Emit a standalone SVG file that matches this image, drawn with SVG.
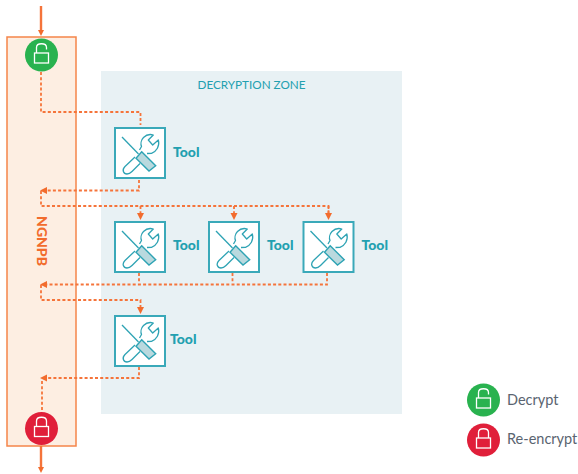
<svg xmlns="http://www.w3.org/2000/svg" width="578" height="474" viewBox="0 0 578 474">
<style>
.dash{fill:none;stroke:#f5743a;stroke-width:1.8;stroke-dasharray:3 2.2}
.solid{fill:none;stroke:#f5743a;stroke-width:2.4}
.head{fill:#f26c2d}
.tl{font:900 14px "Lato","Liberation Sans",sans-serif;fill:#22a0b0}
.box{fill:#fff;stroke:#3aa9b9;stroke-width:2}
.ic{fill:none;stroke:#2ea3b4;stroke-width:1.3;stroke-linejoin:round}
.hd{fill:#b9d9de;stroke:#2ea3b4;stroke-width:1.4}
.lk{fill:none;stroke:#fff;stroke-width:1.3}
.lg{font:400 14.500px "Lato","Liberation Sans",sans-serif;fill:#5a6470}
</style>
<defs>
<g id="tool">
<rect class="box" x="0" y="0" width="50" height="50"/>
<path class="ic" d="M7 9L23.500 26"/>
<path class="ic" d="M24.500 22L26.500 18.500C25.500 16 26 12 28.500 9.500C31 7 35 6 38.300 7L33.300 12L37.700 17L43.300 12C45 18 41.500 23.500 36.500 25.300L32 25.500"/>
<path class="ic" d="M20 29L10 38.500C6.500 42 8.500 46 12 46C14 46 15.500 45 17 43.500L25 35.500"/>
<path class="hd" d="M26.700 23.700L40.700 37.700L34 43L21 30.300Z"/>
</g>
<g id="open">
<rect class="lk" x="-7" y="-2" width="14" height="10"/>
<path class="lk" d="M-5 -2V-7.500C-5 -12.500 5 -12.500 5 -7.500V-5.500"/>
</g>
<g id="closed">
<rect class="lk" x="-7" y="-2" width="14" height="10"/>
<path class="lk" d="M-5 -2V-7.500C-5 -12.500 5 -12.500 5 -7.500V-2"/>
</g>
</defs>
<rect id="zone" x="101" y="71" width="301" height="343" fill="#e8f1f4"/>
<text x="251.500" y="89" text-anchor="middle" font-family="Lato,'Liberation Sans',sans-serif" font-size="11.700" fill="#22a0b0">DECRYPTION ZONE</text>
<g id="ngnpb">
<rect x="7" y="37" width="69" height="409" fill="#fdeee2" stroke="#f5854a" stroke-width="1.500"/>
<text transform="translate(36.500,241) rotate(90)" text-anchor="middle" font-family="Lato,'Liberation Sans',sans-serif" font-size="14" font-weight="900" fill="#f26c2d">NGNPB</text>
</g>
<g id="connectors">
<path class="solid" d="M41 6V31"/><path class="head" d="M38 30H44L41 36Z"/>
<path class="solid" d="M41 446V468"/><path class="head" d="M38 467H44L41 473Z"/>
<path class="dash" d="M41 72V112H140.500V125"/>
<path class="dash" d="M139 180V190.500H45"/><path class="head" d="M47 187V194L40 190.500Z"/>
<path class="dash" d="M41 191V206H328.500V215"/>
<path class="dash" d="M140.500 206V214"/><path class="head" d="M137 213H144L140.500 220Z"/>
<path class="dash" d="M234 206V214"/><path class="head" d="M230.500 213H237.500L234 220Z"/>
<path class="dash" d="M328.500 206V214"/><path class="head" d="M325 213H332L328.500 220Z"/>
<path class="dash" d="M139 273V284.500M232.500 273V284.500M327 273V284.500H45"/><path class="head" d="M47 281V288L40 284.500Z"/>
<path class="dash" d="M41 285V300H140.500V308"/><path class="head" d="M137 307H144L140.500 314Z"/>
<path class="dash" d="M139 367V378H45"/><path class="head" d="M47 374.500V381.500L40 378Z"/>
<path class="dash" d="M42 381V412" stroke-dasharray="2 2"/>
</g>
<g id="decrypt-top"><circle cx="41.500" cy="55" r="16.500" fill="#29b24f"/><use href="#open" x="41.500" y="55"/></g>
<g id="encrypt-bottom"><circle cx="41.500" cy="428.500" r="16.500" fill="#e01f3a"/><use href="#closed" x="41.500" y="428.500"/></g>
<g id="tool1"><use href="#tool" x="115" y="128"/><text class="tl" x="173" y="157">Tool</text></g>
<g id="tool2"><use href="#tool" x="115" y="222"/><text class="tl" x="173" y="250">Tool</text></g>
<g id="tool3"><use href="#tool" x="209" y="222"/><text class="tl" x="267" y="250">Tool</text></g>
<g id="tool4"><use href="#tool" x="303.500" y="222"/><text class="tl" x="361.500" y="250">Tool</text></g>
<g id="tool5"><use href="#tool" x="115" y="316"/><text class="tl" x="170" y="344">Tool</text></g>
<g id="legend-decrypt"><circle cx="483.500" cy="400" r="16.500" fill="#29b24f"/><use href="#open" x="483.500" y="400"/><text class="lg" x="507" y="404.500">Decrypt</text></g>
<g id="legend-encrypt"><circle cx="483.500" cy="440" r="16.500" fill="#e01f3a"/><use href="#closed" x="483.500" y="440"/><text class="lg" x="507" y="444">Re-encrypt</text></g>
</svg>
